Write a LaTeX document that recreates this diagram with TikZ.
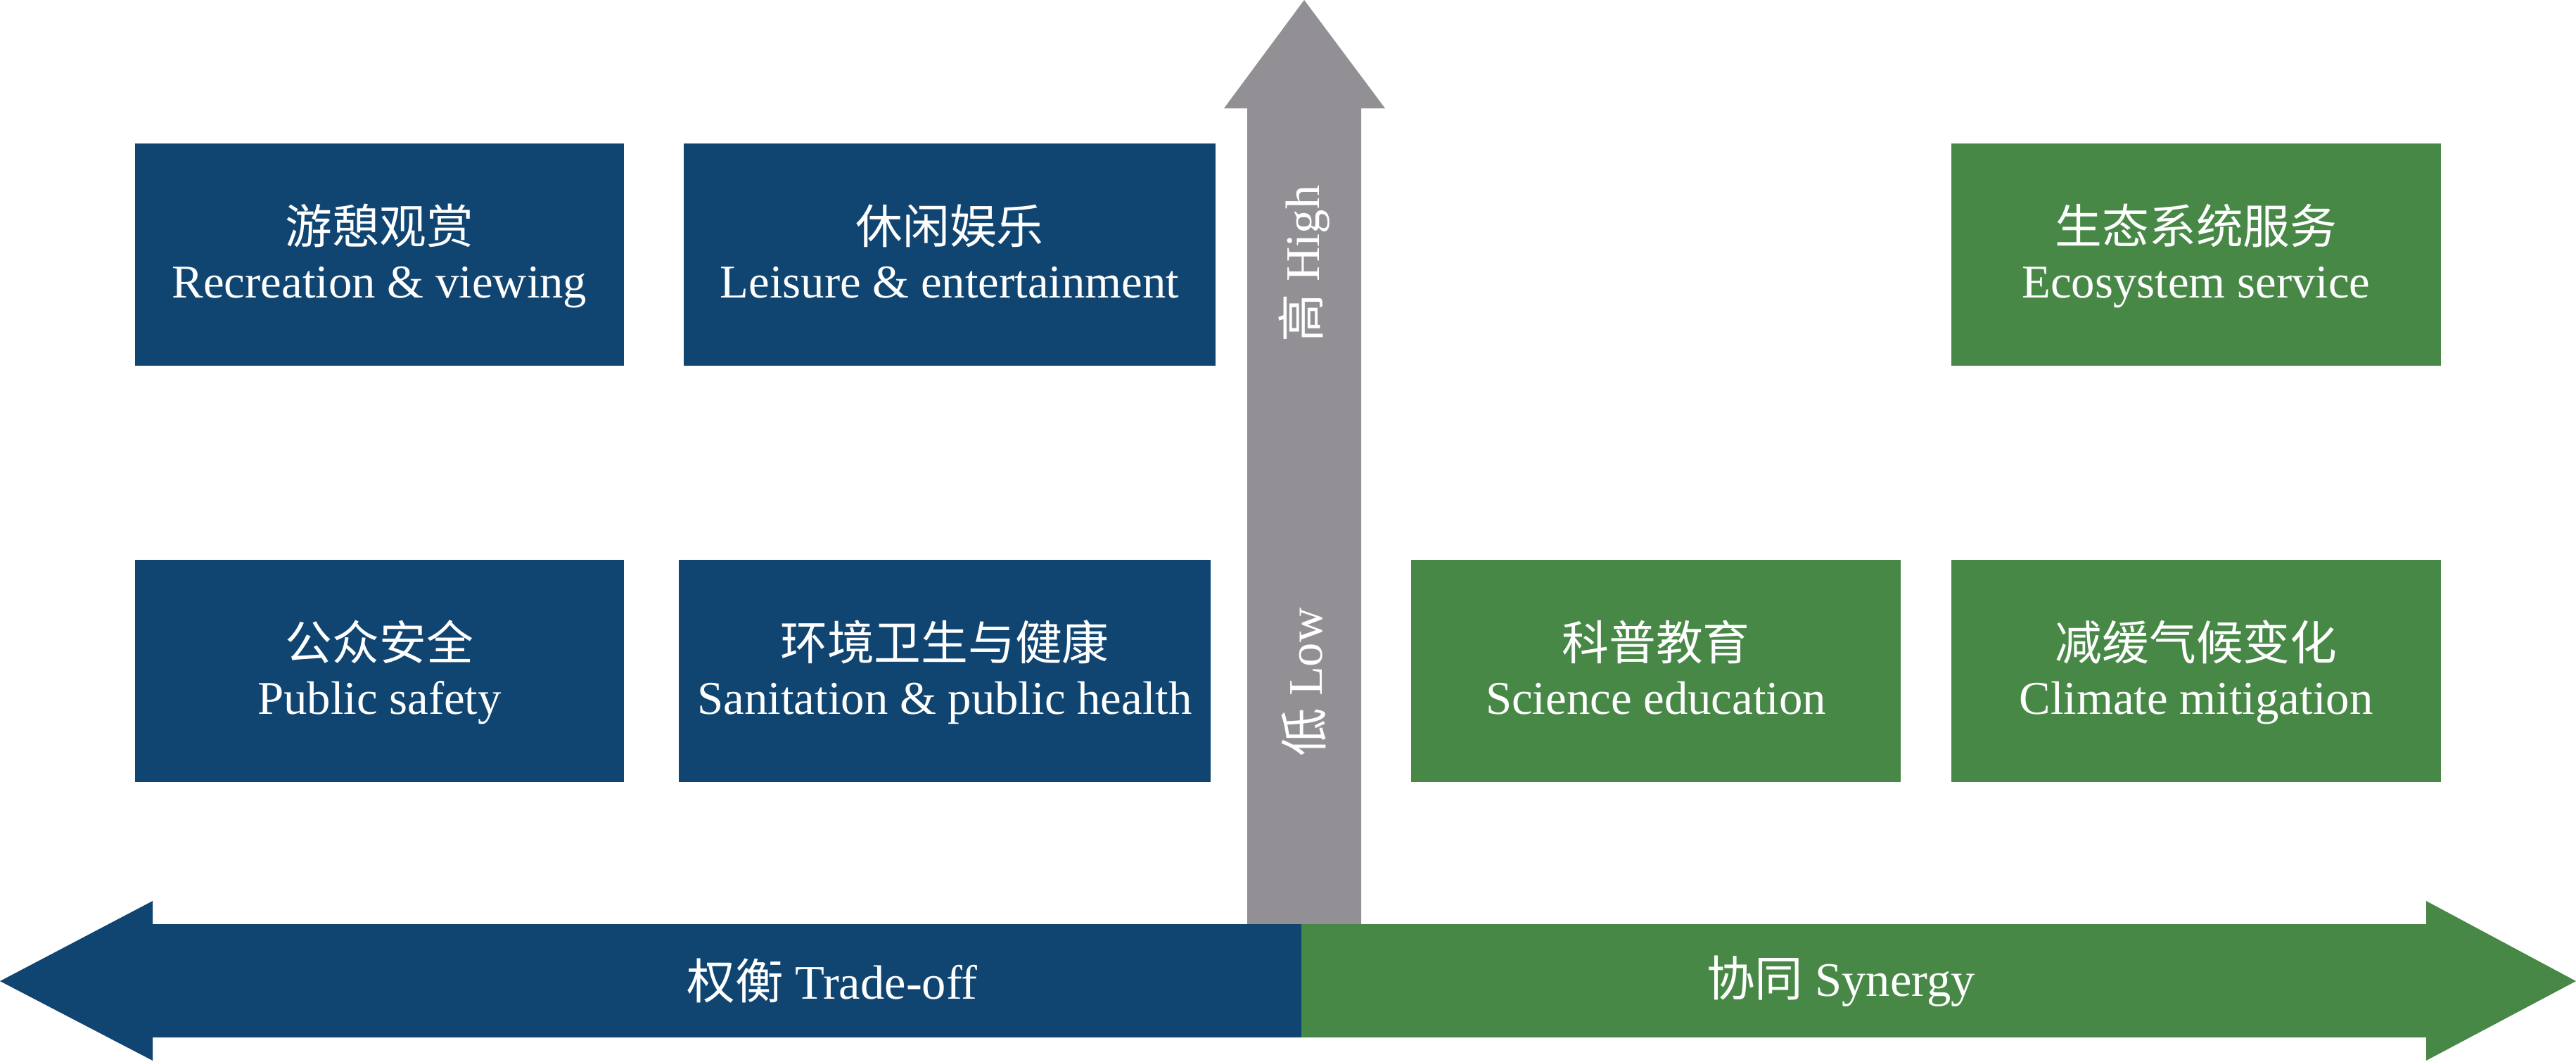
\documentclass[tikz,border=0pt]{standalone}
\usepackage{fontspec}
\setmainfont{Liberation Serif}
\newfontfamily\cjk{Noto Sans CJK SC}
\definecolor{tradeblue}{RGB}{16,69,113}
\definecolor{synergygreen}{RGB}{72,136,70}
\definecolor{axisgray}{RGB}{146,144,149}
\newcommand{\boxtext}[2]{{\cjk #1}\rule{0pt}{20pt}\\#2\strut}
\tikzset{
	servicebox/.style={minimum height=3.16cm, inner sep=0pt, text=white, align=center, font=\fontsize{19}{22}\selectfont},
	bluebox/.style={servicebox, fill=tradeblue},
	greenbox/.style={servicebox, fill=synergygreen},
	arrowtext/.style={text=white, inner sep=0pt, font=\fontsize{19.5}{22}\selectfont}
}
\begin{document}
\begin{tikzpicture}
				\useasboundingbox (0,0) rectangle (36.62,-15.09);

				% vertical axis
				\fill [axisgray] (17.73,-13.14) -- (17.73,-1.54) -- (17.40,-1.54) -- (18.54,0) -- (19.69,-1.54) -- (19.35,-1.54) -- (19.35,-13.14) -- cycle;
				% horizontal axis
				\fill [tradeblue] (18.50,-13.14) -- (2.17,-13.14) -- (2.17,-12.81) -- (0,-13.95) -- (2.17,-15.08) -- (2.17,-14.75) -- (18.50,-14.75) -- cycle;
				\fill [synergygreen] (18.50,-13.14) -- (34.49,-13.14) -- (34.49,-12.81) -- (36.62,-13.95) -- (34.49,-15.08) -- (34.49,-14.75) -- (18.50,-14.75) -- cycle;

				\node [arrowtext, rotate=90] (high) at (18.54,-3.75) {{\cjk 高} High};
				\node [arrowtext, rotate=90] (low) at (18.54,-9.70) {{\cjk 低} Low};
				\node [arrowtext] (tradeoff) at (11.83,-13.95) {{\cjk 权衡} Trade-off};
				\node [arrowtext] (synergy) at (26.17,-13.95) {{\cjk 协同} Synergy};

				\node [bluebox, minimum width=6.95cm] (recreation) at (5.395,-3.615) {\boxtext{游憩观赏}{Recreation \& viewing}};
				\node [bluebox, minimum width=7.56cm] (leisure) at (13.50,-3.615) {\boxtext{休闲娱乐}{Leisure \& entertainment}};
				\node [bluebox, minimum width=6.95cm] (safety) at (5.395,-9.535) {\boxtext{公众安全}{Public safety}};
				\node [bluebox, minimum width=7.56cm] (sanitation) at (13.43,-9.535) {\boxtext{环境卫生与健康}{Sanitation \& public health}};

				\node [greenbox, minimum width=6.96cm] (ecosystem) at (31.22,-3.615) {\boxtext{生态系统服务}{Ecosystem service}};
				\node [greenbox, minimum width=6.96cm] (science) at (23.54,-9.535) {\boxtext{科普教育}{Science education}};
				\node [greenbox, minimum width=6.96cm] (climate) at (31.22,-9.535) {\boxtext{减缓气候变化}{Climate mitigation}};
			\end{tikzpicture}
\end{document}
